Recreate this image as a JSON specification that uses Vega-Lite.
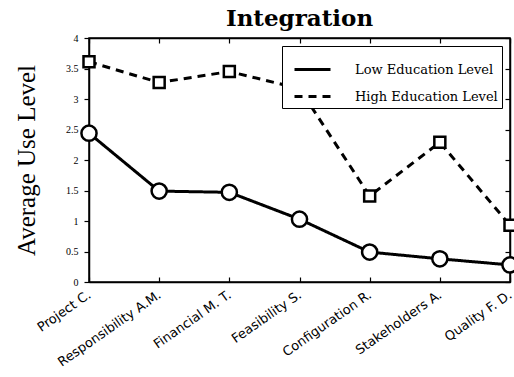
{
  "$schema": "https://vega.github.io/schema/vega-lite/v6.json",
  "width": 421,
  "height": 244,
  "autosize": {"type": "none"},
  "padding": {"left": 89, "top": 38, "right": 4, "bottom": 95},
  "background": "white",
  "title": {
    "text": "Integration",
    "font": "DejaVu Serif",
    "fontSize": 23,
    "fontWeight": "bold",
    "color": "black",
    "anchor": "middle",
    "offset": 2
  },
  "config": {
    "view": {"stroke": "black", "strokeWidth": 1.5},
    "axis": {
      "grid": false,
      "domainColor": "black",
      "domainWidth": 1.5,
      "tickColor": "black",
      "tickWidth": 1.2,
      "labelColor": "black",
      "titleColor": "black"
    }
  },
  "data": {
    "values": [
      {"item": "Project C.", "series": "Low Education Level", "value": 2.44},
      {"item": "Responsibility A.M.", "series": "Low Education Level", "value": 1.49},
      {"item": "Financial M. T.", "series": "Low Education Level", "value": 1.47},
      {"item": "Feasibility S.", "series": "Low Education Level", "value": 1.03},
      {"item": "Configuration R.", "series": "Low Education Level", "value": 0.49},
      {"item": "Stakeholders A.", "series": "Low Education Level", "value": 0.38},
      {"item": "Quality F. D.", "series": "Low Education Level", "value": 0.28},
      {"item": "Project C.", "series": "High Education Level", "value": 3.61},
      {"item": "Responsibility A.M.", "series": "High Education Level", "value": 3.27},
      {"item": "Financial M. T.", "series": "High Education Level", "value": 3.45},
      {"item": "Feasibility S.", "series": "High Education Level", "value": 3.17},
      {"item": "Configuration R.", "series": "High Education Level", "value": 1.41},
      {"item": "Stakeholders A.", "series": "High Education Level", "value": 2.29},
      {"item": "Quality F. D.", "series": "High Education Level", "value": 0.93}
    ]
  },
  "layer": [
    {
      "mark": {"type": "line", "color": "black", "strokeWidth": 3},
      "encoding": {
        "x": {
          "field": "item",
          "type": "ordinal",
          "sort": ["Project C.", "Responsibility A.M.", "Financial M. T.", "Feasibility S.", "Configuration R.", "Stakeholders A.", "Quality F. D."],
          "scale": {"type": "point", "padding": 0},
          "axis": {
            "title": null,
            "orient": "bottom",
            "labelAngle": -35,
            "labelAlign": "right",
            "labelBaseline": "middle",
            "labelFont": "DejaVu Sans",
            "labelFontSize": 13,
            "labelPadding": 16,
            "tickSize": -5
          }
        },
        "y": {
          "field": "value",
          "type": "quantitative",
          "scale": {"domain": [0, 4], "nice": false},
          "axis": {
            "title": "Average Use Level",
            "titleFont": "Liberation Serif",
            "titleFontSize": 25,
            "titleFontWeight": "normal",
            "titlePadding": 26,
            "orient": "left",
            "values": [0, 0.5, 1, 1.5, 2, 2.5, 3, 3.5, 4],
            "format": ".1~f",
            "labelFont": "Liberation Serif",
            "labelFontSize": 10,
            "labelPadding": 6,
            "tickSize": 5
          }
        },
        "strokeDash": {
          "field": "series",
          "type": "nominal",
          "scale": {"domain": ["Low Education Level", "High Education Level"], "range": [[1, 0], [8, 6]]},
          "legend": {
            "title": null,
            "orient": "top-right",
            "offset": 8,
            "strokeColor": "black",
            "fillColor": "white",
            "padding": 4,
            "rowPadding": -16,
            "labelFont": "DejaVu Serif",
            "labelFontSize": 13,
            "labelColor": "black",
            "labelOffset": 23,
            "symbolOffset": 7,
            "symbolSize": 1296,
            "symbolStrokeWidth": 3
          }
        }
      }
    },
    {
      "transform": [{"filter": "datum.series === 'Low Education Level'"}],
      "mark": {"type": "point", "shape": "circle", "size": 230, "filled": true, "fill": "white", "stroke": "black", "strokeWidth": 2.5, "opacity": 1},
      "encoding": {
        "x": {
          "field": "item",
          "type": "ordinal",
          "sort": ["Project C.", "Responsibility A.M.", "Financial M. T.", "Feasibility S.", "Configuration R.", "Stakeholders A.", "Quality F. D."],
          "scale": {"type": "point", "padding": 0},
          "axis": {"title": null, "orient": "top", "labels": false, "tickSize": -5}
        },
        "y": {
          "field": "value",
          "type": "quantitative",
          "scale": {"domain": [0, 4], "nice": false},
          "axis": {"title": null, "orient": "right", "labels": false, "values": [0, 0.5, 1, 1.5, 2, 2.5, 3, 3.5, 4], "tickSize": -5}
        }
      }
    },
    {
      "transform": [{"filter": "datum.series === 'High Education Level'"}],
      "mark": {"type": "point", "shape": "square", "size": 121, "filled": true, "fill": "white", "stroke": "black", "strokeWidth": 2.5, "opacity": 1},
      "encoding": {
        "x": {
          "field": "item",
          "type": "ordinal",
          "sort": ["Project C.", "Responsibility A.M.", "Financial M. T.", "Feasibility S.", "Configuration R.", "Stakeholders A.", "Quality F. D."],
          "scale": {"type": "point", "padding": 0},
          "axis": null
        },
        "y": {
          "field": "value",
          "type": "quantitative",
          "scale": {"domain": [0, 4], "nice": false},
          "axis": null
        }
      }
    }
  ],
  "resolve": {"axis": {"x": "independent", "y": "independent"}}
}
